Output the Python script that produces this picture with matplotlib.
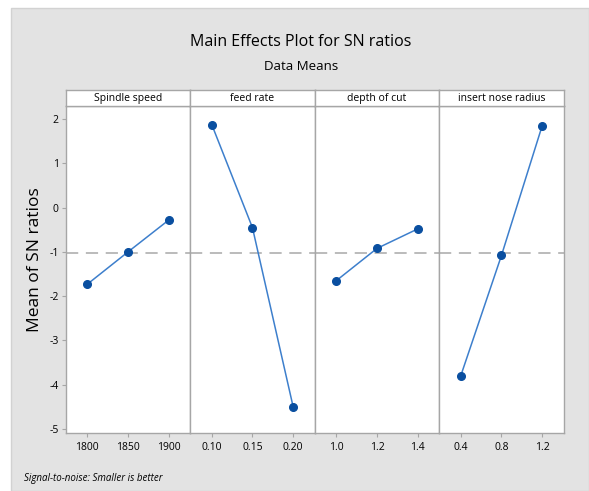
import matplotlib
matplotlib.use("Agg")
import matplotlib.pyplot as plt
from matplotlib.patches import Rectangle
import numpy as np

plt.rcParams['font.family'] = ['Open Sans', 'DejaVu Sans']

factors = ["Spindle speed", "feed rate", "depth of cut", "insert nose radius"]
levels = [["1800", "1850", "1900"],
          ["0.10", "0.15", "0.20"],
          ["1.0", "1.2", "1.4"],
          ["0.4", "0.8", "1.2"]]
spindle_sn = [-1.73, -1.00, -0.28]
feed_sn = [1.88, -0.45, -4.50]
depth_sn = [-1.65, -0.92, -0.48]
nose_sn = [-3.80, -1.08, 1.85]
yticks = [2, 1, 0, -1, -2, -3, -4, -5]

means = [spindle_sn, feed_sn, depth_sn, nose_sn]
grand_mean = np.mean(np.concatenate(means))

W, H = 589, 491
fig = plt.figure(figsize=(W / 100, H / 100), dpi=100)
fig.patch.set_facecolor("white")

# gray chart background
fig.patches.append(Rectangle((11 / W, 0), 1 - 11 / W, 1 - 8 / H, transform=fig.transFigure,
                             facecolor="#e3e3e3", edgecolor="#d2d2d2", lw=1.0, zorder=1))

fig.text(301 / W, 1 - 42 / H, "Main Effects Plot for SN ratios", ha="center", va="center",
         fontsize=11.5, zorder=3)
fig.text(301 / W, 1 - 67 / H, "Data Means", ha="center", va="center",
         fontsize=9.5, zorder=3)
fig.text(35 / W, 1 - 260 / H, "Mean of SN ratios", ha="center", va="center", rotation=90,
         fontsize=12.5, zorder=3)
fig.text(24 / W, 1 - 478 / H, "Signal-to-noise: Smaller is better", ha="left", va="center",
         fontsize=7, style="italic", zorder=3)

left = 65.7 / W
pw = 124.5 / W
bottom = (H - 433.3) / H
top = (H - 106) / H
htop = (H - 89.7) / H
edge = "#a6a6a6"

for i in range(4):
    ax = fig.add_axes([left + i * pw, bottom, pw, top - bottom], zorder=2)
    ax.set_facecolor("white")
    x = np.arange(3)
    ax.axhline(grand_mean, color="#a8a8a8", lw=1.1, ls=(0, (8, 5)), zorder=1)
    ax.plot(x, means[i], color="#3d7fcc", lw=1.1, zorder=2)
    ax.plot(x, means[i], "o", color="#0a4fa0", ms=5.5, zorder=3)
    ax.set_xlim(-0.53, 2.53)
    ax.set_ylim(-5.1, 2.3)
    ax.set_xticks(x)
    ax.set_xticklabels(levels[i], fontsize=7.5)
    ax.set_yticks(yticks)
    if i == 0:
        ax.set_yticklabels([str(t) for t in yticks], fontsize=7.5)
        ax.tick_params(axis="y", length=3, color=edge, pad=2)
    else:
        ax.tick_params(axis="y", length=0, labelleft=False)
    ax.tick_params(axis="x", length=3, color=edge, pad=3)
    for s in ax.spines.values():
        s.set_color(edge)
        s.set_linewidth(1.0)

    hx = fig.add_axes([left + i * pw, top, pw, htop - top], zorder=2)
    hx.set_facecolor("white")
    hx.set_xticks([])
    hx.set_yticks([])
    for s in hx.spines.values():
        s.set_color(edge)
        s.set_linewidth(1.0)
    hx.text(0.5, 0.45, factors[i], ha="center", va="center", fontsize=7.5,
            transform=hx.transAxes)

fig.savefig("out.png", dpi=100)
